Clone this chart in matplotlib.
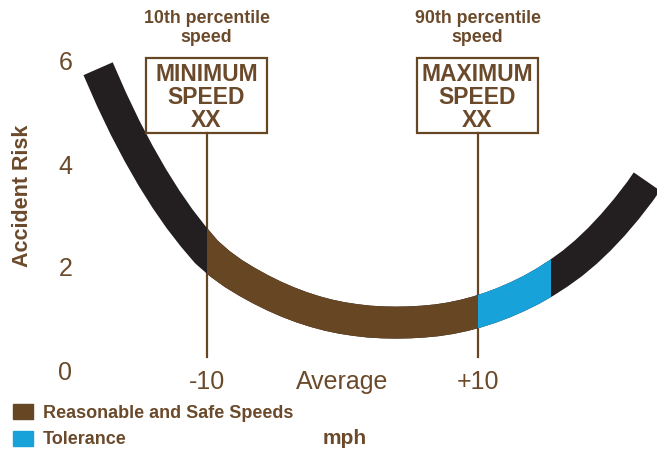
import matplotlib
matplotlib.use("Agg")
import matplotlib.pyplot as plt
from matplotlib.patches import Rectangle, Patch

plt.rcParams['font.family'] = ['Liberation Sans', 'DejaVu Sans']

# speed relative to average (mph) and accident risk
speed = [-18, -17, -16, -15, -14, -13, -12, -11, -10, -9, -8, -7, -6, -5,
         -4, -3, -2, -1, 0, 1, 2, 3, 4, 5, 6, 7, 8, 9, 10, 11, 12, 13, 14,
         15, 16, 17, 18, 19, 20, 21, 22, 22.5]
risk = [5.85, 5.25, 4.70, 4.20, 3.74, 3.32, 2.94, 2.60, 2.29, 2.06, 1.87,
        1.71, 1.565, 1.435, 1.32, 1.22, 1.135, 1.065, 1.01, 0.97, 0.94,
        0.925, 0.92, 0.925, 0.94, 0.965, 1.005, 1.06, 1.13, 1.215, 1.315,
        1.43, 1.56, 1.71, 1.88, 2.07, 2.29, 2.54, 2.82, 3.13, 3.47, 3.66]

safe_range = (-10, 10)
tolerance_range = (10, 15.4)
xtick_pos = [-10, 0, 10]
xtick_labels = ['-10', 'Average', '+10']
ytick_pos = [0, 2, 4, 6]

BROWN = '#674624'
TEXT = '#6b4a2b'
BLACK = '#231f20'
BLUE = '#17a2da'

fig = plt.figure(figsize=(6.57, 4.51), dpi=100)
W, H = 657, 451
left_px, bottom_px = 75, 370
ax = fig.add_axes([left_px / W, (H - bottom_px) / H, (W - left_px) / W, bottom_px / H])
ax.set_xlim((left_px - 342) / 13.55, (W - 342) / 13.55)
ax.set_ylim(0, bottom_px / 51.5)

lw = 23
ax.plot(speed, risk, color=BLACK, lw=lw, solid_capstyle='butt', zorder=3)
for (lo, hi), col in [(safe_range, BROWN), (tolerance_range, BLUE)]:
    line, = ax.plot(speed, risk, color=col, lw=lw, solid_capstyle='butt', zorder=4)
    clip = Rectangle((lo, -5), hi - lo, 20, transform=ax.transData)
    line.set_clip_path(clip)

# markers for min / max speed
boxes = [(-10, '10th percentile\nspeed', 'MINIMUM\nSPEED\nXX'),
         (10, '90th percentile\nspeed', 'MAXIMUM\nSPEED\nXX')]
half_w = 4.43
box_lo, box_hi = 4.60, 6.06
for x, top, label in boxes:
    ax.plot([x, x], [0.25, box_lo], color=BROWN, lw=1.6, zorder=2)
    ax.add_patch(Rectangle((x - half_w, box_lo), 2 * half_w, box_hi - box_lo,
                           fill=False, ec=BROWN, lw=1.6, zorder=5))
    ax.text(x, (box_lo + box_hi) / 2 - 0.04, label, ha='center', va='center',
            fontsize=16.5, fontweight='bold', color=TEXT, linespacing=1.0, zorder=6)
    ax.text(x, 6.64, top, ha='center', va='center', fontsize=12.8,
            fontweight='bold', color=TEXT, linespacing=1.1)

for s in ax.spines.values():
    s.set_visible(False)
ax.set_xticks(xtick_pos, xtick_labels)
ax.set_yticks(ytick_pos)
ax.tick_params(length=0, labelsize=18, labelcolor=TEXT)
ax.tick_params(axis='x', pad=0)
ax.tick_params(axis='y', pad=2)
for t in ax.get_yticklabels():
    t.set_horizontalalignment('right')

fig.text(23 / W, 1 - 196 / H, 'Accident Risk', rotation=90, ha='center', va='center',
         fontsize=15.5, fontweight='bold', color=TEXT)
fig.text(345 / W, 1 - 438 / H, 'mph', ha='center', va='center',
         fontsize=15, fontweight='bold', color=TEXT)

handles = [Patch(color=BROWN), Patch(color=BLUE)]
fig.legend(handles, ['Reasonable and Safe Speeds', 'Tolerance'], loc='upper left',
           bbox_to_anchor=(13 / W, 1 - 404 / H), frameon=False,
           handlelength=1.1, handleheight=0.9, handletextpad=0.55,
           labelspacing=0.5, borderpad=0, borderaxespad=0, labelcolor=TEXT,
           prop={'weight': 'bold', 'size': 13})

fig.savefig('out.png', dpi=100)
